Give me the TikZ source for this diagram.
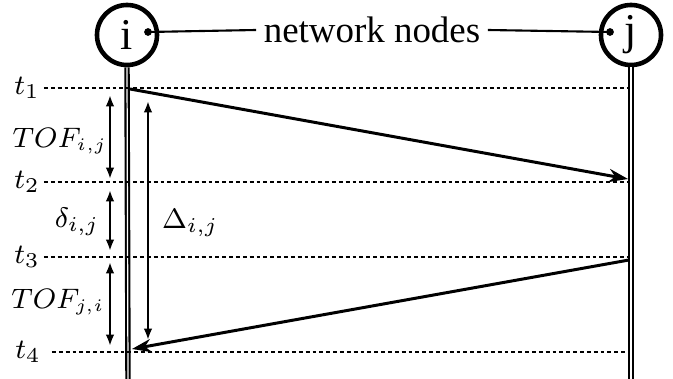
\documentclass[tikz,border=0pt]{standalone}
\usepackage{amsmath}
\usepackage{fontspec}
\setmainfont{Liberation Serif}
\usepackage{tikz}
\usetikzlibrary{arrows.meta,calc}
\tikzset{
  sqnode/.style={draw,circle,line width=1.3pt,minimum size=0.6cm,inner sep=0pt,font=\fontsize{12.5}{14}\selectfont},
  sqlife/.style={double,line width=0.6pt,double distance=0.35pt},
  sqtime/.style={line width=0.65pt,dash pattern=on 1.1pt off 0.85pt},
  sqmsg/.style={-{Stealth[length=5.5pt,width=3.8pt]},line width=0.85pt},
  sqspan/.style={{Latex[length=3.2pt,width=2.4pt]}-{Latex[length=3.2pt,width=2.4pt]},line width=0.6pt},
  sqlabel/.style={font=\fontsize{8.5}{10}\selectfont,inner sep=1pt},
  sqtof/.style={font=\fontsize{7.6}{9}\selectfont,inner sep=1pt},
  sqpin/.style={line width=0.6pt},
}
\begin{document}
\begin{tikzpicture}[x=0.01cm,y=-0.01cm]
\useasboundingbox (0,0) rectangle (673,379);
\node[sqnode] (ni) at (127,35) {i};
\node[sqnode] (nj) at (631,35) {j};
\node[font=\fontsize{10.5}{13}\selectfont,inner sep=2pt] (net) at (372,30) {network nodes};
\fill (148,32) circle (1.1pt) coordinate (di);
\fill (610,32) circle (1.1pt) coordinate (dj);
\draw[sqpin] (di) -- (net.west);
\draw[sqpin] (net.east) -- (dj);
\coordinate (ei) at (128,379);
\coordinate (ej) at (631,379);
\draw[sqlife] (ni.south) -- (ei);
\draw[sqlife] (nj.south) -- (ej);
\node[sqlabel] (t1) at (27,88) {$t_1$};
\node[sqlabel] (t2) at (27,182) {$t_2$};
\node[sqlabel] (t3) at (27,257) {$t_3$};
\node[sqlabel] (t4) at (28,352) {$t_4$};
\coordinate (j1) at (629,88);
\coordinate (j2) at (629,182);
\coordinate (j3) at (629,257);
\coordinate (j4) at (629,352);
\draw[sqtime] (t1.east) -- (j1);
\draw[sqtime] (t2.east) -- (j2);
\draw[sqtime] (t3.east) -- (j3);
\draw[sqtime] ([xshift=2pt]t4.east) -- (j4);
\coordinate (si) at (130,89);
\coordinate (rj) at (628,179);
\coordinate (sj) at (629,260);
\coordinate (ri) at (132,349);
\draw[sqmsg] (si) -- (rj);
\draw[sqmsg] (sj) -- (ri);
\coordinate (a1) at (110,95);
\coordinate (a2) at (110,179);
\coordinate (a3) at (110,190);
\coordinate (a4) at (110,251);
\coordinate (a5) at (110,262);
\coordinate (a6) at (110,346);
\draw[sqspan] (a1) -- (a2);
\draw[sqspan] (a3) -- (a4);
\draw[sqspan] (a5) -- (a6);
\coordinate (b1) at (148,101);
\coordinate (b2) at (148,340);
\draw[sqspan] (b1) -- (b2);
\node[sqtof] (tofij) at (60,141) {$TOF_{i,j}$};
\node[sqlabel] (dij) at (77,222) {$\delta_{i,j}$};
\node[sqtof] (tofji) at (58,302) {$TOF_{j,i}$};
\node[sqlabel,right] (Dij) at (158,223) {$\Delta_{i,j}$};
\end{tikzpicture}
\end{document}
